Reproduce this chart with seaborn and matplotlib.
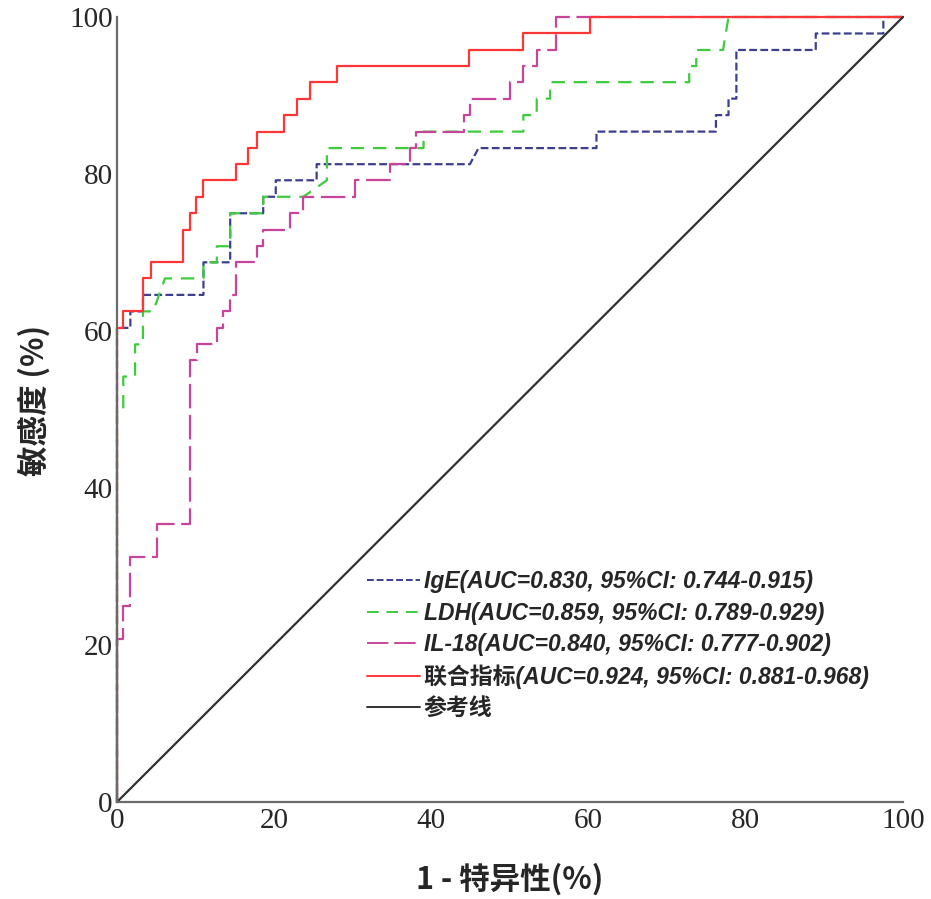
import matplotlib
matplotlib.use("Agg")
import matplotlib.pyplot as plt
import seaborn as sns
import pandas as pd

# ROC curve corner points (1 - specificity %, sensitivity %)
ige_fpr = [0, 0, 1.7, 1.7, 3.3, 3.3, 11.0, 11.0, 14.4, 14.4, 18.6, 18.6, 20.2, 20.2,
           25.4, 25.4, 44.9, 46.0, 61.0, 61.0, 76.2, 76.2, 77.8, 77.8, 78.8, 78.8,
           88.9, 88.9, 97.5, 97.5, 100]
ige_tpr = [0, 60.4, 60.4, 62.5, 62.5, 64.6, 64.6, 68.75, 68.75, 75.0, 75.0, 77.1, 77.1,
           79.2, 79.2, 81.25, 81.25, 83.3, 83.3, 85.4, 85.4, 87.5, 87.5, 89.6, 89.6,
           95.8, 95.8, 97.9, 97.9, 100, 100]

ldh_fpr = [0, 0, 0.8, 0.8, 2.3, 2.3, 3.3, 3.3, 4.6, 6.1, 11.0, 11.0, 12.7, 12.7, 14.4,
           14.4, 18.6, 18.6, 23.7, 26.7, 26.7, 39.0, 39.0, 51.7, 51.7, 53.4, 53.4, 55.1,
           55.1, 72.8, 72.8, 73.7, 73.7, 77.1, 77.8, 100]
ldh_tpr = [0, 50.0, 50.0, 54.2, 54.2, 58.3, 58.3, 62.5, 62.5, 66.7, 66.7, 68.75, 68.75,
           70.8, 70.8, 75.0, 75.0, 77.1, 77.1, 79.2, 83.3, 83.3, 85.4, 85.4, 87.5, 87.5,
           89.6, 89.6, 91.7, 91.7, 93.75, 93.75, 95.8, 95.8, 100, 100]

il18_fpr = [0, 0, 0.8, 0.8, 1.7, 1.7, 5.1, 5.1, 9.3, 9.3, 10.2, 10.2, 12.7, 12.7, 13.5,
            13.5, 14.4, 14.4, 15.2, 15.2, 17.8, 17.8, 18.6, 18.6, 22.0, 22.0, 23.7, 23.7,
            30.3, 30.3, 34.7, 34.7, 37.3, 37.3, 38.1, 38.1, 44.1, 44.1, 44.9, 44.9, 50.0,
            50.0, 51.7, 51.7, 53.4, 53.4, 55.9, 55.9, 100]
il18_tpr = [0, 20.8, 20.8, 25.0, 25.0, 31.25, 31.25, 35.4, 35.4, 56.25, 56.25, 58.3, 58.3,
            60.4, 60.4, 62.5, 62.5, 64.6, 64.6, 68.75, 68.75, 70.8, 70.8, 72.9, 72.9, 75.0,
            75.0, 77.1, 77.1, 79.2, 79.2, 81.25, 81.25, 83.3, 83.3, 85.4, 85.4, 87.5, 87.5,
            89.6, 89.6, 91.7, 91.7, 93.75, 93.75, 95.8, 95.8, 100, 100]

combo_fpr = [0, 0, 0.8, 0.8, 3.3, 3.3, 4.3, 4.3, 8.4, 8.4, 9.3, 9.3, 10.1, 10.1, 11.0,
             11.0, 15.2, 15.2, 16.7, 16.7, 17.8, 17.8, 21.2, 21.2, 22.9, 22.9, 24.6, 24.6,
             28.0, 28.0, 44.8, 44.8, 51.7, 51.7, 60.2, 60.2, 100]
combo_tpr = [0, 60.4, 60.4, 62.5, 62.5, 66.7, 66.7, 68.75, 68.75, 72.9, 72.9, 75.0, 75.0,
             77.1, 77.1, 79.2, 79.2, 81.25, 81.25, 83.3, 83.3, 85.4, 85.4, 87.5, 87.5, 89.6,
             89.6, 91.7, 91.7, 93.75, 93.75, 95.8, 95.8, 97.9, 97.9, 100, 100]

ref_x = [0, 100]
ref_y = [0, 100]

labels = ["IgE(AUC=0.830, 95%CI: 0.744-0.915)",
          "LDH(AUC=0.859, 95%CI: 0.789-0.929)",
          "IL-18(AUC=0.840, 95%CI: 0.777-0.902)",
          "联合指标(AUC=0.924, 95%CI: 0.881-0.968)",
          "参考线"]
ticks = [0, 20, 40, 60, 80, 100]

sns.set_style("white")
plt.rcParams["font.family"] = ["Liberation Sans", "Noto Sans CJK SC", "DejaVu Sans"]

fig = plt.figure(figsize=(9.31, 8.99), dpi=100)
ax = fig.add_axes([117 / 931, 1 - 802 / 899, 786 / 931, 785 / 899])

curves = [
    (ige_fpr, ige_tpr, "#3c3f8f", (0, (3.5, 1.5)), 1.6),
    (ldh_fpr, ldh_tpr, "#3ccc3c", (0, (6, 4)), 1.6),
    (il18_fpr, il18_tpr, "#c8449a", (0, (11, 3)), 1.6),
    (combo_fpr, combo_tpr, "#ff3636", "-", 1.6),
    (ref_x, ref_y, "#303030", "-", 1.6),
]
for (xs, ys, color, ls, lw), lab in zip(curves, labels):
    df = pd.DataFrame({"fpr": xs, "tpr": ys})
    sns.lineplot(data=df, x="fpr", y="tpr", sort=False, estimator=None, ax=ax,
                 color=color, linestyle=ls, linewidth=lw, label=lab, clip_on=False)

ax.set_xlim(0, 100)
ax.set_ylim(0, 100)
ax.set_xticks(ticks)
ax.set_yticks(ticks)
for side in ["top", "right"]:
    ax.spines[side].set_visible(False)
for side in ["left", "bottom"]:
    ax.spines[side].set_color("#6a6a6a")
    ax.spines[side].set_linewidth(1.6)
ax.tick_params(direction="in", length=14, width=1.6, color="#222222", pad=4)
for t in ax.get_xticklabels() + ax.get_yticklabels():
    t.set_fontfamily("Liberation Serif")
    t.set_fontsize(21)
ax.tick_params(axis="y", pad=3)

ax.set_xlabel("1 - 特异性(%)", fontsize=22, fontweight="bold",
              family=["Noto Sans CJK SC", "DejaVu Sans"])
ax.set_ylabel("敏感度 (%)", fontsize=22, fontweight="bold",
              family=["Noto Sans CJK SC", "DejaVu Sans"])
ax.xaxis.set_label_coords(0.5, -0.078)
ax.yaxis.set_label_coords(-0.085, 0.512)

leg = ax.legend(loc="upper left", bbox_to_anchor=(356 / 931, 1 - 559 / 899),
                bbox_transform=fig.transFigure, frameon=False, borderpad=0,
                handlelength=2.3, handletextpad=0.15, labelspacing=0.36,
                prop={"size": 16.5, "weight": "bold", "style": "italic",
                      "family": ["Liberation Sans", "Noto Sans CJK SC"]})
for line in leg.get_lines():
    line.set_linewidth(1.4)

fig.savefig("out.png", dpi=100)
